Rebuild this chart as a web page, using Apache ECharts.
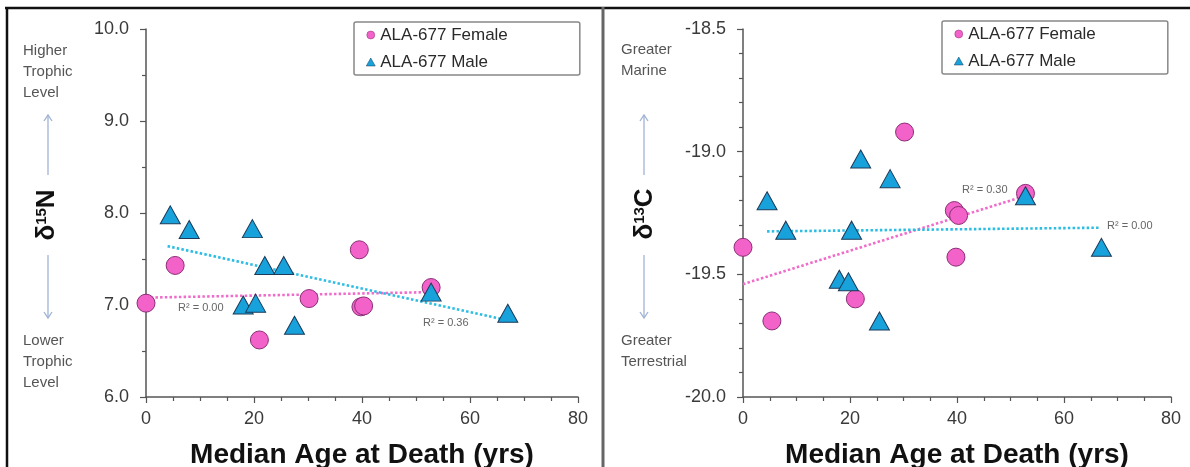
<!DOCTYPE html>
<html><head><meta charset="utf-8">
<script src="https://cdn.jsdelivr.net/npm/echarts@6/dist/echarts.min.js"></script>
<style>html,body{margin:0;padding:0;background:#fff}#c{width:1190px;height:467px}</style>
</head><body><div id="c"></div>
<script>
// ---- data ----
const femaleAges = [0, 5.4, 21, 30.2, 39.5, 39.8, 40.3, 52.8];
const femaleN    = [7.02, 7.43, 6.62, 7.07, 7.60, 6.98, 6.99, 7.19];
const femaleC    = [-19.39, -19.69, -19.60, -18.92, -19.24, -19.43, -19.26, -19.17];
const maleAges   = [4.5, 8, 18, 19.7, 20.3, 22, 25.5, 27.5, 52.8, 67];
const maleN      = [7.98, 7.82, 7.00, 7.83, 7.02, 7.43, 7.43, 6.78, 7.14, 6.91];
const maleC      = [-19.20, -19.32, -19.52, -19.53, -19.32, -19.03, -19.69, -19.11, -19.18, -19.39];
// trend line end points
const trendFemaleN = [[0, 7.08], [52.8, 7.14]];
const trendMaleN   = [[4.0, 7.64], [66.5, 6.84]];
const trendFemaleC = [[0, -19.54], [52.8, -19.18]];
const trendMaleC   = [[4.5, -19.325], [66.5, -19.31]];
const r2Labels = ['R² = 0.00', 'R² = 0.36', 'R² = 0.30', 'R² = 0.00'];
const seriesNames = ['ALA-677 Female', 'ALA-677 Male'];
const xTicks = {min: 0, max: 80, interval: 20};
const yTicksN = {min: 6, max: 10, interval: 1};
const yTicksC = {min: -20, max: -18.5, interval: 0.5};

const pairs = (xs, ys) => xs.map((x, i) => [x, ys[i]]);
const FONT = '"Liberation Sans", Arial, sans-serif';
const PINK = '#f262c9', PINK_B = '#8a2f76';
const BLUE = '#17a2dc', BLUE_B = '#1d3a58';

const chart = echarts.init(document.getElementById('c'), null, {renderer: 'canvas'});

function xAxis(gi) {
  return {
    type: 'value', gridIndex: gi, min: xTicks.min, max: xTicks.max, interval: xTicks.interval,
    axisLine: {show: true, onZero: false, lineStyle: {color: '#555', width: 1.5}},
    axisTick: {show: true, length: 6, lineStyle: {color: '#555', width: 1.2}},
    minorTick: {show: true, splitNumber: 4, length: 4, lineStyle: {color: '#555', width: 1.2}},
    splitLine: {show: false},
    axisLabel: {fontFamily: FONT, fontSize: 18, color: '#3a3a3a', margin: 13},
    name: 'Median Age at Death (yrs)', nameLocation: 'middle', nameGap: 44,
    nameTextStyle: {fontFamily: FONT, fontSize: 28, fontWeight: 'bold', color: '#111'}
  };
}
function yAxis(gi, t, minorSplit) {
  return {
    type: 'value', gridIndex: gi, min: t.min, max: t.max, interval: t.interval,
    axisLine: {show: true, onZero: false, lineStyle: {color: '#555', width: 1.5}},
    axisTick: {show: true, length: 6, lineStyle: {color: '#555', width: 1.2}},
    minorTick: {show: true, splitNumber: minorSplit, length: 4, lineStyle: {color: '#555', width: 1.2}},
    splitLine: {show: false},
    axisLabel: {fontFamily: FONT, fontSize: 18, color: '#3a3a3a', margin: 17,
      formatter: v => v.toFixed(1)}
  };
}
function trend(name, gi, data, color) {
  return {
    type: 'line', name: name, xAxisIndex: gi, yAxisIndex: gi, data: data,
    showSymbol: false, symbol: 'none', silent: true, z: 1,
    lineStyle: {type: [2.5, 2.2], color: color, width: 2.6}
  };
}
function scatter(gi, name, data, sym) {
  const isF = sym === 'circle';
  return {
    type: 'scatter', name: name, xAxisIndex: gi, yAxisIndex: gi, data: data,
    symbol: sym, symbolSize: isF ? 18 : [20, 18], z: 3,
    itemStyle: {color: isF ? PINK : BLUE, borderColor: isF ? PINK_B : BLUE_B, borderWidth: 1, opacity: 1}
  };
}
function legend(left, top) {
  return {
    left: left, top: top, orient: 'vertical',
    data: [{name: seriesNames[0], icon: 'circle'}, {name: seriesNames[1], icon: 'triangle'}],
    itemWidth: 9, itemHeight: 8, itemGap: 7, itemStyle: {borderWidth: 0.5},
    padding: [3, 72, 3, 12], borderColor: '#888', borderWidth: 1.5, borderRadius: 2,
    textStyle: {fontFamily: FONT, fontSize: 17, color: '#2a2a2a', lineHeight: 20},
    selectedMode: false
  };
}
function txt(x, y, text, opts) {
  return Object.assign({type: 'text', left: x, top: y, silent: true,
    style: Object.assign({text: text, fontFamily: FONT, fontSize: 15, fill: '#555', lineHeight: 21}, (opts && opts.style) || {})},
    opts && opts.extra || {});
}
function arrow(x, y1, y2) {
  const d = y2 > y1 ? -1 : 1;
  return [
    {type: 'line', silent: true, shape: {x1: x, y1: y1, x2: x, y2: y2}, style: {stroke: '#9fb3d4', lineWidth: 1.3}},
    {type: 'polyline', silent: true, shape: {points: [[x - 4, y2 + 6 * d], [x, y2], [x + 4, y2 + 6 * d]]}, style: {stroke: '#9fb3d4', lineWidth: 1.3, fill: null}}
  ];
}
function rotTitle(cx, cy, main, sup, tail) {
  return {
    type: 'text', x: cx, y: cy, rotation: Math.PI / 2, silent: true,
    style: {
      text: '{a|' + main + '}{s|' + sup + '}{a|' + tail + '}',
      align: 'center', verticalAlign: 'middle',
      rich: {
        a: {fontFamily: FONT, fontSize: 26, fontWeight: 'bold', fill: '#111', lineHeight: 26},
        s: {fontFamily: FONT, fontSize: 15, fontWeight: 'bold', fill: '#111', verticalAlign: 'top', lineHeight: 15, padding: [0, 0, 11, 0]}
      }
    }
  };
}
const r2Style = {fontSize: 11, fill: '#666', lineHeight: 12};

chart.setOption({
  backgroundColor: '#fff',
  animation: false,
  grid: [
    {left: 146, top: 29, width: 432, height: 368, containLabel: false, outerBoundsMode: 'none'},
    {left: 743, top: 29, width: 428, height: 368, containLabel: false, outerBoundsMode: 'none'}
  ],
  xAxis: [xAxis(0), xAxis(1)],
  yAxis: [yAxis(0, yTicksN, 2), yAxis(1, yTicksC, 5)],
  legend: [legend(354, 22), legend(942, 21)],
  series: [
    trend('trend F N', 0, trendFemaleN, '#f06ccb'),
    trend('trend M N', 0, trendMaleN, '#2cbde3'),
    scatter(0, seriesNames[0], pairs(femaleAges, femaleN), 'circle'),
    scatter(0, seriesNames[1], pairs(maleAges, maleN), 'triangle'),
    trend('trend F C', 1, trendFemaleC, '#f06ccb'),
    trend('trend M C', 1, trendMaleC, '#2cbde3'),
    scatter(1, seriesNames[0], pairs(femaleAges, femaleC), 'circle'),
    scatter(1, seriesNames[1], pairs(maleAges, maleC), 'triangle')
  ],
  graphic: [
    {type: 'line', silent: true, shape: {x1: 5, y1: 8, x2: 1190, y2: 8}, style: {stroke: '#111', lineWidth: 2.5}},
    {type: 'line', silent: true, shape: {x1: 7, y1: 7, x2: 7, y2: 467}, style: {stroke: '#111', lineWidth: 2.5}},
    {type: 'line', silent: true, shape: {x1: 603, y1: 7, x2: 603, y2: 467}, style: {stroke: '#666', lineWidth: 3}},
    txt(23, 40, 'Higher\nTrophic\nLevel'),
    txt(23, 330, 'Lower\nTrophic\nLevel'),
    ...arrow(48, 175, 115),
    ...arrow(48, 255, 318),
    rotTitle(47, 215, 'δ', '15', 'N'),
    txt(621, 39, 'Greater\nMarine'),
    txt(621, 330, 'Greater\nTerrestrial'),
    ...arrow(644, 175, 115),
    ...arrow(644, 255, 318),
    rotTitle(645, 214, 'δ', '13', 'C'),
    txt(178, 302, r2Labels[0], {style: r2Style}),
    txt(423, 317, r2Labels[1], {style: r2Style}),
    txt(962, 184, r2Labels[2], {style: r2Style}),
    txt(1107, 220, r2Labels[3], {style: r2Style})
  ]
});
</script></body></html>
